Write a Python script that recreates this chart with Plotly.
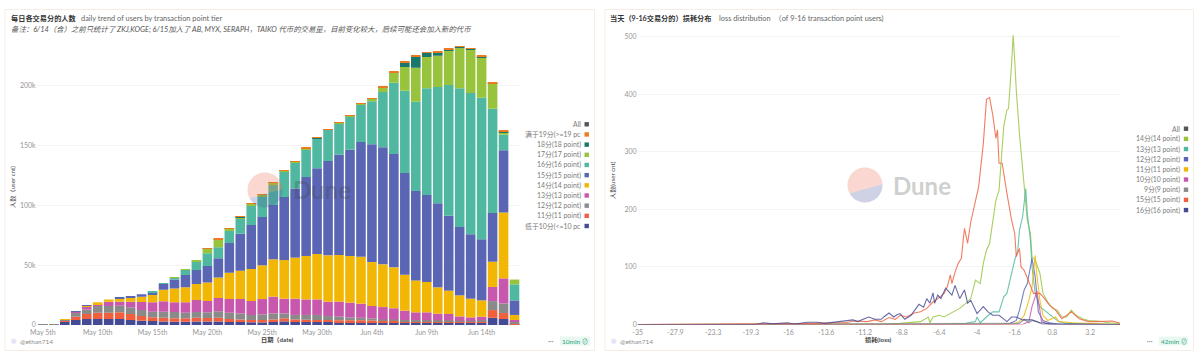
import math
import numpy as np
import pandas as pd
import plotly.graph_objects as go

W, H = 1200, 353
FONT = "Lato, 'Noto Sans CJK SC', sans-serif"

# ---------- left chart data: top of each stacked tier, in thousands ----------
dates = pd.date_range("2025-05-05", "2025-06-17", freq="D")
top_10 = [.1,.1,2.8,4.2,5,5,5,5,4.2,3.6,3.4,3,2.8,2.8,3,3,3,2.5,2.5,2.2,2.2,2.5,3,2.5,2.5,2.5,2.5,2.5,2.5,2.5,2.5,2.2,2.2,2,2,2,2,2.5,2,2,2,6,5,.6]
top_11 = [.1,.1,3.4,7,9.2,10.3,10.3,10.6,9.2,7.5,6.4,6,5.6,5.6,6,5.8,6,5,4.7,4.2,4.2,4.7,5.6,4.7,4.4,4.2,4.2,4,4,4,3.8,3.6,3.5,3.2,3.2,3,3,3.2,2.8,2.8,3,12.5,10,1.4]
top_12 = [.4,.5,4.2,10.3,13,15.9,15.9,16,14.8,12.5,11,11,10.9,10.3,10.9,10.6,11.4,10.3,9.7,8.4,8.9,9.7,9.7,8.4,8.4,8.4,7.5,7,6.4,6,5.6,4.7,4.7,4.2,4.2,4,4,4,3.6,3.6,4,20,18,2.8]
top_13 = [.4,.5,4.5,10.9,15.3,17.5,19.5,19.5,19.5,19.2,19,19.8,19,19,21,20,22.6,21.7,21.7,20,21.7,23.7,22,22,21.4,21.4,19.5,19.5,18.7,17.8,15.9,15,14,12,10.6,10.6,9.5,9.2,7.2,6.4,7,31.8,39,4.2]
top_14 = [.4,.5,4.7,11.2,16.4,19,21.4,22,22.8,23.7,25,29.5,30.6,31.5,34.3,35.6,39.8,43.7,45.4,46.8,49.9,54.9,54.3,56.3,57.7,59.3,58.2,58.5,57.7,57,52.6,50.7,48.2,42,37.3,36,31.5,28.7,24.8,22,20.6,52.9,94,8.4]
top_15 = [.4,.5,4.7,11.4,16.7,19,21.4,22.8,24.2,25.6,27.3,34.3,38,41.8,46,49.3,55.7,68.5,76.3,83.6,90.3,100.3,107,114,123.7,131,137,142.3,146.5,153,151,148.5,143,127,112,108.6,101.7,91.4,81.9,75.8,71.6,93.6,146,20.6]
top_16 = [.4,.5,4.7,11.4,16.7,19,21.4,22.8,24.2,25.6,27.9,35,39.8,46,53.2,60,65,78.5,88.9,100.3,107,117.5,128,136,147,155.7,163,168.6,174.2,184,187,194.7,202.5,195.8,186.6,198,199,200.6,197.8,193.9,190,180.8,159,34]
top_17 = [.4,.5,4.7,11.4,16.7,19,21.4,22.8,24.2,25.6,27.9,35,40,46.5,54,63.8,71.3,80.4,90.2,101.4,108.7,118.7,129.2,136.8,147.8,156.3,163.6,169.4,174.8,184.8,189.2,198.7,211.2,215.6,215,224,225,229.8,231.8,230,224,201.7,161.3,38]
top_18 = [.4,.5,4.7,11.4,16.7,19,21.4,22.8,24.2,25.6,27.9,35,40,46.5,54,63.9,71.8,80.6,90.3,101.5,108.8,118.8,129.3,136.9,147.9,156.4,163.7,169.5,174.9,184.9,189.3,198.8,211.4,219.5,224.5,227.5,228,230.6,232.7,231.2,224.7,202.2,162,38]
top_19 = [.4,.5,4.7,11.4,16.7,19,21.4,22.8,24.2,25.6,27.9,35,40,46.5,54,64,72.4,80.8,90.5,101.7,109,119,129.5,137,148,156.5,163.8,169.6,175,185,189.4,199,211.7,220,225,228,228.4,231,233,231.5,225,202.5,162.4,38]
tier_tops = [top_10, top_11, top_12, top_13, top_14, top_15, top_16, top_17, top_18, top_19]
tier_names = ["低于10分(<=10 pc", "11分(11 point)", "12分(12 point)", "13分(13 point)", "14分(14 point)",
              "15分(15 point)", "16分(16 point)", "17分(17 point)", "18分(18 point)", "满于19分(>=19 pc"]
tier_colors = ["#454a94", "#f0603f", "#8a8a8a", "#c858ad", "#f2b705",
               "#5a66b3", "#50b8a1", "#97c43c", "#19786c", "#ee7a1f"]
left_ticks = ["2025-05-05", "2025-05-10", "2025-05-15", "2025-05-20", "2025-05-25", "2025-05-30",
              "2025-06-04", "2025-06-09", "2025-06-14"]
left_ticktext = ["May 5th", "May 10th", "May 15th", "May 20th", "May 25th", "May 30th",
                 "Jun 4th", "Jun 9th", "Jun 14th"]

# ---------- right chart data: loss bin index and user count per series ----------
loss_ticks = [0, 24, 48, 72, 96, 120, 144, 168, 192, 216, 240, 264, 288]
loss_labels = ["-35", "-27.9", "-23.3", "-19.3", "-16", "-13.6", "-11.2", "-8.8", "-6.4", "-4", "-1.6", "0.8", "3.2"]

b14 = [0,120,160,167,180,185,186,188,192,195,199,205,209,212,215,218,220,222,224,226,228,230,232,233,235,236,238,239,240,241,243,245,247,248,250,251,253,256,258,261,264,267,270,273,276,279,283,287,293,300,306,307]
v14 = [0,0,1,2,5,13,3,13,16,13,19,28,37,45,77,71,106,129,141,181,216,233,303,344,372,375,452,502,458,406,331,267,216,181,158,118,112,89,54,39,28,25,13,13,25,16,10,7,6,3,2,1]
b13 = [0,188,209,215,216,218,222,226,230,233,235,237,240,242,243,245,247,248,250,251,253,256,260,264,268,272,306,307]
v13 = [0,0,2,5,13,3,13,22,22,48,54,77,112,129,164,187,236,192,146,100,54,31,22,13,5,2,0,0]
b12 = [0,230,237,241,243,246,248,251,253,255,258,262,270,307]
v12 = [0,0,2,7,25,60,71,115,83,22,7,3,0,0]
b11 = [0,239,243,246,249,251,253,254,256,258,261,266,268,277,306,307]
v11 = [0,0,5,16,42,65,120,89,42,16,7,13,5,3,0,0]
b10 = [0,245,249,251,253,254,256,257,262,307]
v10 = [0,0,5,31,48,59,25,5,0,0]
b9 = [0,243,246,249,251,254,258,307]
v9 = [0,2,9,3,7,5,0,0]
b15 = [0,82,90,102,113,124,132,138,146,151,155,160,164,167,171,176,180,184,188,191,195,197,199,200,202,204,206,208,210,212,215,217,220,222,224,226,228,229,230,232,235,238,240,241,243,244,246,248,250,252,256,259,262,266,270,276,281,287,293,302,306,307]
v15 = [0,1,2,2,2,3,3,6,5,8,5,12,9,16,13,20,22,28,39,45,54,65,86,71,91,106,115,167,141,178,216,239,314,391,394,364,323,338,280,280,228,181,158,118,132,100,94,80,65,54,54,45,34,25,10,22,10,5,5,6,3,2]
b16 = [0,71,75,80,86,95,100,108,114,119,125,132,137,140,143,147,151,155,157,160,163,165,167,170,174,179,182,184,186,188,189,191,193,196,198,200,202,205,208,210,212,216,220,223,226,230,235,238,241,245,251,256,264,307]
v16 = [0,1,0,3,1,3,1,4,4,2,4,6,8,5,9,13,9,9,14,20,13,17,19,9,16,35,30,45,37,55,37,51,45,63,57,51,68,45,60,37,42,19,31,22,16,16,5,13,13,8,8,3,1,0]

line_series = [
    ("14分(14 point)", b14, v14, "#97c43c"),
    ("13分(13 point)", b13, v13, "#50b8a1"),
    ("12分(12 point)", b12, v12, "#5a66b3"),
    ("11分(11 point)", b11, v11, "#f2b705"),
    ("10分(10 point)", b10, v10, "#c858ad"),
    ("9分(9 point)", b9, v9, "#8a8a8a"),
    ("15分(15 point)", b15, v15, "#f0603f"),
    ("16分(16 point)", b16, v16, "#454a94"),
]

# ---------- helpers: pixel position -> paper fraction ----------
px = lambda x: x / W
py = lambda y: 1 - y / H

fig = go.Figure()

prev = np.zeros(len(dates))
for name, top, color in zip(tier_names, tier_tops, tier_colors):
    top = np.array(top) * 1000
    fig.add_trace(go.Bar(x=dates, y=top - prev, name=name, marker=dict(color=color, line_width=0),
                         width=0.875 * 86400000, xaxis="x", yaxis="y", showlegend=False))
    prev = top

for name, b, v, color in line_series:
    fig.add_trace(go.Scatter(x=b, y=v, name=name, mode="lines", line=dict(color=color, width=1.1),
                             xaxis="x2", yaxis="y2", showlegend=False, opacity=0.82))

tick_font = dict(family=FONT, size=7, color="#969696")
axis_common = dict(showline=False, zeroline=False, ticks="", tickfont=tick_font, automargin=False)

layout = dict(
    width=W, height=H, margin=dict(l=0, r=0, t=0, b=0), autosize=False,
    paper_bgcolor="white", plot_bgcolor="white", barmode="relative", showlegend=False,
    font=dict(family=FONT),
    xaxis=dict(domain=[px(36.7), px(520)], anchor="y", type="date",
               range=["2025-05-04 10:30", "2025-06-17 12:00"], ticklabelstandoff=2,
               tickmode="array", tickvals=left_ticks, ticktext=left_ticktext, showgrid=False, **axis_common),
    yaxis=dict(domain=[py(325), py(38)], anchor="x", range=[0, 239900], tickmode="array",
               tickvals=[0, 50000, 100000, 150000, 200000], ticktext=["0", "50k", "100k", "150k", "200k"],
               showgrid=True, gridcolor="#f4f4f4", gridwidth=1, **axis_common),
    xaxis2=dict(domain=[px(637.7), px(1120)], anchor="y2", range=[0, 307], tickmode="array", ticklabelstandoff=2,
                tickvals=loss_ticks, ticktext=loss_labels, showgrid=False, **axis_common),
    yaxis2=dict(domain=[py(324.5), py(30)], anchor="x2", range=[0, 511.3], tickmode="array",
                tickvals=[0, 100, 200, 300, 400, 500], showgrid=True, gridcolor="#f4f4f4", gridwidth=1, **axis_common),
)

annotations = []
shapes = []


def text(x, y, s, size=7, color="#777777", anchor="left", angle=0, opacity=1, family=FONT):
    annotations.append(dict(x=px(x), y=py(y), xref="paper", yref="paper", text=s, showarrow=False,
                            xanchor=anchor, yanchor="middle", textangle=angle, opacity=opacity,
                            borderpad=0, font=dict(family=family, size=size, color=color)))


def pie_paths(cx, cy, r, x0y, x1y):
    """two halves of the watermark disc, cut by a slightly tilted chord"""
    a0 = math.atan2(x0y - cy, -math.sqrt(max(r * r - (x0y - cy) ** 2, 0)))
    a1 = math.atan2(x1y - cy, math.sqrt(max(r * r - (x1y - cy) ** 2, 0)))
    if a0 < 0:
        a0 += 2 * math.pi
    top = [a0 + (2 * math.pi + a1 - a0) * i / 40 for i in range(41)]
    bot = [a1 + (a0 - a1) * i / 40 for i in range(41)]

    def path(angles):
        pts = [(px(cx + r * math.cos(t)), py(cy + r * math.sin(t))) for t in angles]
        return "M " + " L ".join(f"{x:.5f} {y:.5f}" for x, y in pts) + " Z"

    return path(top), path(bot)


def watermark(cx, cy, tx):
    p_top, p_bot = pie_paths(cx, cy, 17.5, cy + 8.3, cy - 0.7)
    for p, c in ((p_top, "#ec6a50"), (p_bot, "#4c5a9e")):
        shapes.append(dict(type="path", path=p, xref="paper", yref="paper", fillcolor=c,
                           opacity=0.27, line_width=0, layer="above"))
    text(tx, cy, "<b>Dune</b>", size=24, color="#3c3c3c", anchor="center", opacity=0.24)


def card(x0, x1):
    shapes.append(dict(type="rect", xref="paper", yref="paper", x0=px(x0), x1=px(x1), y0=py(350.5), y1=py(9.5),
                       line=dict(color="#f6ece6", width=1), fillcolor="rgba(0,0,0,0)", layer="below"))


def legend(names, colors, y0, text_right, sw_x):
    for i, (n, c) in enumerate(zip(names, colors)):
        y = y0 + i * 10.17
        text(text_right, y, n, size=6.9, color="#7a7a7a", anchor="right")
        shapes.append(dict(type="rect", xref="paper", yref="paper", x0=px(sw_x - 2.2), x1=px(sw_x + 2.2),
                           y0=py(y + 2.2), y1=py(y - 2.2), fillcolor=c, line_width=0))


def footer(x_handle, pill0, pill1, label):
    shapes.append(dict(type="circle", xref="paper", yref="paper", x0=px(x_handle - 8), x1=px(x_handle - 2.5),
                       y0=py(344), y1=py(338.5), fillcolor="#e7e6f7", line_width=0))
    text(x_handle, 341.5, "@ethan714", size=6.5, color="#8c8c8c")
    shapes.append(dict(type="rect", xref="paper", yref="paper", x0=px(pill0), x1=px(pill1), y0=py(345.5), y1=py(336.5),
                       fillcolor="#e8f8f1", line_width=0))
    text((pill0 + pill1) / 2, 341.3, label + " ⊘", size=6.5, color="#2f9e78", anchor="center")
    text(pill0 - 5, 341, "···", size=7, color="#777777", anchor="right")


card(5, 594.5)
card(605, 1193.5)

text(9.5, 18, "<b>每日各交易分的人数</b>", size=7.2, color="#333333")
text(80, 18, "daily trend of users by transaction point tier", size=7.4, color="#666666")
text(9.5, 29.3, "<i>备注：6/14（含）之前只统计了 ZKJ,KOGE; 6/15加入了 AB, MYX, SERAPH，TAIKO 代币的交易量，目前变化较大，后续可能还会加入新的代币</i>",
     size=7.4, color="#555555")
text(608.5, 18, "<b>当天（9-16交易分的）损耗分布</b>", size=7.2, color="#333333")
text(718, 18, "loss distribution  （of 9-16 transaction point users)", size=7.4, color="#666666")

text(13, 187, "人数（user cnt)", size=6.2, color="#444444", anchor="center", angle=-90)
text(613, 180, "人数(user cnt)", size=6.2, color="#444444", anchor="center", angle=-90)
text(277, 340, "<b>日期（date)</b>", size=6.2, color="#444444", anchor="center")
text(878, 340, "<b>损耗(loss)</b>", size=6.2, color="#444444", anchor="center")

legend(["All"] + tier_names[::-1], ["#555555"] + tier_colors[::-1], 124.3, 581.7, 586.7)
legend(["All"] + [s[0] for s in line_series], ["#555555"] + [s[3] for s in line_series], 128.7, 1181, 1186)

watermark(265, 190, 322)
watermark(865, 185, 922)

footer(19, 560, 590, "10min")
footer(619, 1159, 1188, "42min")

layout["annotations"] = annotations
layout["shapes"] = shapes
fig.update_layout(**layout)

fig.write_html("out.html", config=dict(displayModeBar=False),
               post_script="document.body.style.margin='0';document.body.style.overflow='hidden';")
